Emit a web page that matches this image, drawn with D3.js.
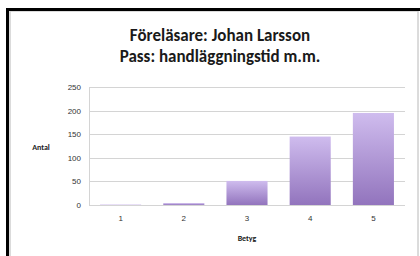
<!DOCTYPE html>
<html lang="sv">
<head>
  <meta charset="UTF-8" />
  <title>Betyg</title>
  <script src="https://d3js.org/d3.v7.min.js"></script>
  <style>
    body {
      margin: 0;
      background: #fff;
      font-family: Carlito, Calibri, "Open Sans", sans-serif;
    }
    svg { display: block; }
    .title { font-weight: bold; font-size: 17px; fill: #1a1a1a; }
    .tick text { font-size: 8px; fill: #333; }
    .axis-label { font-weight: bold; font-size: 8px; fill: #222; }
  </style>
</head>
<body>
<svg width="420" height="256"></svg>
<script>
  const categories = ["1", "2", "3", "4", "5"];
  const values = [1, 4, 51, 145, 195];
  const yTicks = [0, 50, 100, 150, 200, 250];
  const titleLines = ["Föreläsare: Johan Larsson", "Pass: handläggningstid m.m."];

  const svg = d3.select("svg");
  const plot = { left: 89, right: 405, top: 87, bottom: 205 };

  // frame around the chart
  svg.append("rect").attr("x", 10).attr("y", 11).attr("width", 408).attr("height", 260)
    .attr("fill", "none").attr("stroke", "#d0d0d0").attr("stroke-width", 1.5);
  svg.append("line").attr("x1", 7.5).attr("x2", 7.5).attr("y1", 8).attr("y2", 256)
    .attr("stroke", "#000").attr("stroke-width", 3);
  svg.append("line").attr("x1", 6).attr("x2", 420).attr("y1", 9.5).attr("y2", 9.5)
    .attr("stroke", "#000").attr("stroke-width", 3);

  const defs = svg.append("defs");
  const grad = defs.append("linearGradient").attr("id", "barGrad")
    .attr("x1", 0).attr("y1", 0).attr("x2", 0).attr("y2", 1);
  grad.append("stop").attr("offset", "0%").attr("stop-color", "#cfbcee");
  grad.append("stop").attr("offset", "100%").attr("stop-color", "#9274bd");

  const x = d3.scaleBand().domain(categories).range([plot.left, plot.right]).paddingInner(0.35).paddingOuter(0.175);
  const y = d3.scaleLinear().domain([0, 250]).range([plot.bottom, plot.top]);

  // gridlines
  svg.append("g").selectAll("line").data(yTicks).enter().append("line")
    .attr("x1", plot.left).attr("x2", plot.right)
    .attr("y1", d => Math.round(y(d)) + 0.5).attr("y2", d => Math.round(y(d)) + 0.5)
    .attr("stroke", "#d4d4d4").attr("stroke-width", 1);
  svg.append("line").attr("x1", plot.left + 0.5).attr("x2", plot.left + 0.5)
    .attr("y1", plot.top).attr("y2", plot.bottom)
    .attr("stroke", "#d4d4d4");

  // y axis
  const yAxis = svg.append("g").attr("transform", `translate(${plot.left - 8},0)`)
    .call(d3.axisLeft(y).tickValues(yTicks).tickSize(0).tickPadding(0));
  yAxis.select(".domain").remove();

  // x axis
  const xAxis = svg.append("g").attr("transform", `translate(0,${plot.bottom + 10})`)
    .call(d3.axisBottom(x).tickSize(0).tickPadding(0));
  xAxis.select(".domain").remove();

  // bars
  svg.append("g").selectAll("rect").data(values).enter().append("rect")
    .attr("x", (d, i) => x(categories[i]))
    .attr("width", x.bandwidth())
    .attr("y", d => y(d))
    .attr("height", d => y(0) - y(d))
    .attr("fill", "url(#barGrad)");

  svg.append("text").attr("class", "axis-label").attr("x", 41).attr("y", 150)
    .attr("text-anchor", "middle").text("Antal");
  svg.append("text").attr("class", "axis-label").attr("x", (plot.left + plot.right) / 2).attr("y", 241)
    .attr("text-anchor", "middle").text("Betyg");

  svg.selectAll("text.title").data(titleLines).enter().append("text")
    .attr("class", "title")
    .attr("x", 220).attr("y", (d, i) => 41 + i * 21)
    .attr("text-anchor", "middle")
    .text(d => d);
</script>
</body>
</html>
